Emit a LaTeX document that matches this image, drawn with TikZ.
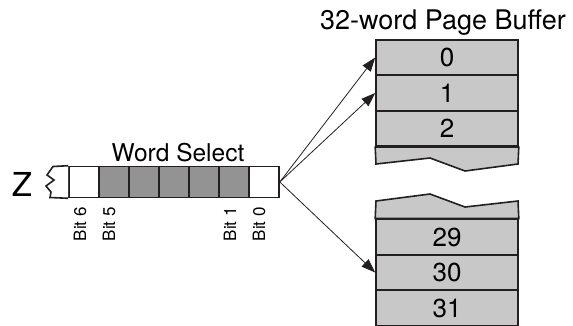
\documentclass[tikz,border=0pt]{standalone}
\usepackage{fontspec}
\setmainfont{TeX Gyre Heros}
\usetikzlibrary{arrows.meta}
\definecolor{bitgray}{HTML}{939393}
\definecolor{bufgray}{HTML}{C8C8C8}
\definecolor{ink}{HTML}{231F20}
\tikzstyle{cell}=[draw=ink, line width=1.6pt, inner sep=0pt, minimum width=30pt, minimum height=31pt]
\tikzstyle{wcell}=[cell, fill=white]
\tikzstyle{gcell}=[cell, fill=bitgray]
\tikzstyle{word}=[draw=ink, line width=1.6pt, fill=bufgray, inner sep=0pt, minimum width=142pt, minimum height=35.5pt, font=\fontsize{26}{26}\selectfont]
\tikzstyle{bitlabel}=[rotate=90, anchor=east, inner sep=0pt, font=\fontsize{17}{17}\selectfont]
\tikzstyle{ptr}=[draw=ink, line width=0.8pt, -{Triangle[length=14pt,width=10pt]}]

\begin{document}
\begin{tikzpicture}[x=1pt, y=-1pt]
        \clip (0,0) rectangle (573,325);
        % register Z
        \node[font=\fontsize{33}{33}\selectfont, inner sep=0pt] (Z) at (22,184.5) {Z};
        \node[wcell] (B6) at (84,182) {};
        \node[gcell] (B5) at (114,182) {};
        \node[gcell] (B4) at (144,182) {};
        \node[gcell] (B3) at (174,182) {};
        \node[gcell] (B2) at (204,182) {};
        \node[gcell] (B1) at (234,182) {};
        \node[wcell] (B0) at (264,182) {};
        \draw[draw=ink, line width=1.6pt, fill=white] (B6.north west) -- (53,166.5) -- (47,175) -- (54,180)
            -- (46,186) -- (51,192) -- (50,197.5) -- (B6.south west);
        \node[anchor=base, font=\fontsize{24.5}{24.5}\selectfont] (sel) at (178,161) {Word Select};
        \node[bitlabel] (L6) at (80,207) {Bit 6};
        \node[bitlabel] (L5) at (109,207) {Bit 5};
        \node[bitlabel] (L1) at (230,207) {Bit 1};
        \node[bitlabel] (L0) at (259,207) {Bit 0};
        % page buffer
        \node[anchor=base, font=\fontsize{27}{27}\selectfont] (title) at (443,29) {32-word Page Buffer};
        \node[word] (W0) at (447,57.5) {0};
        \node[word] (W1) at (447,93) {1};
        \node[word] (W2) at (447,128.5) {2};
        \draw[draw=ink, line width=1.6pt, fill=bufgray] (W2.south west) -- (376,164) -- (430,158) -- (465,171)
            -- (518,164) -- (W2.south east) -- cycle;
        \node[word] (W29) at (447,237) {29};
        \node[word] (W30) at (447,272.5) {30};
        \node[word] (W31) at (447,308) {31};
        \draw[draw=ink, line width=1.6pt, fill=bufgray] (W29.north west) -- (376,201) -- (430,194) -- (465,207)
            -- (518,201) -- (W29.north east) -- cycle;
        % word pointers
        \draw[ptr] (B0.east) -- (W0.west);
        \draw[ptr] (B0.east) -- (W1.west);
        \draw[ptr] (B0.east) -- (W30.west);
    \end{tikzpicture}
\end{document}
